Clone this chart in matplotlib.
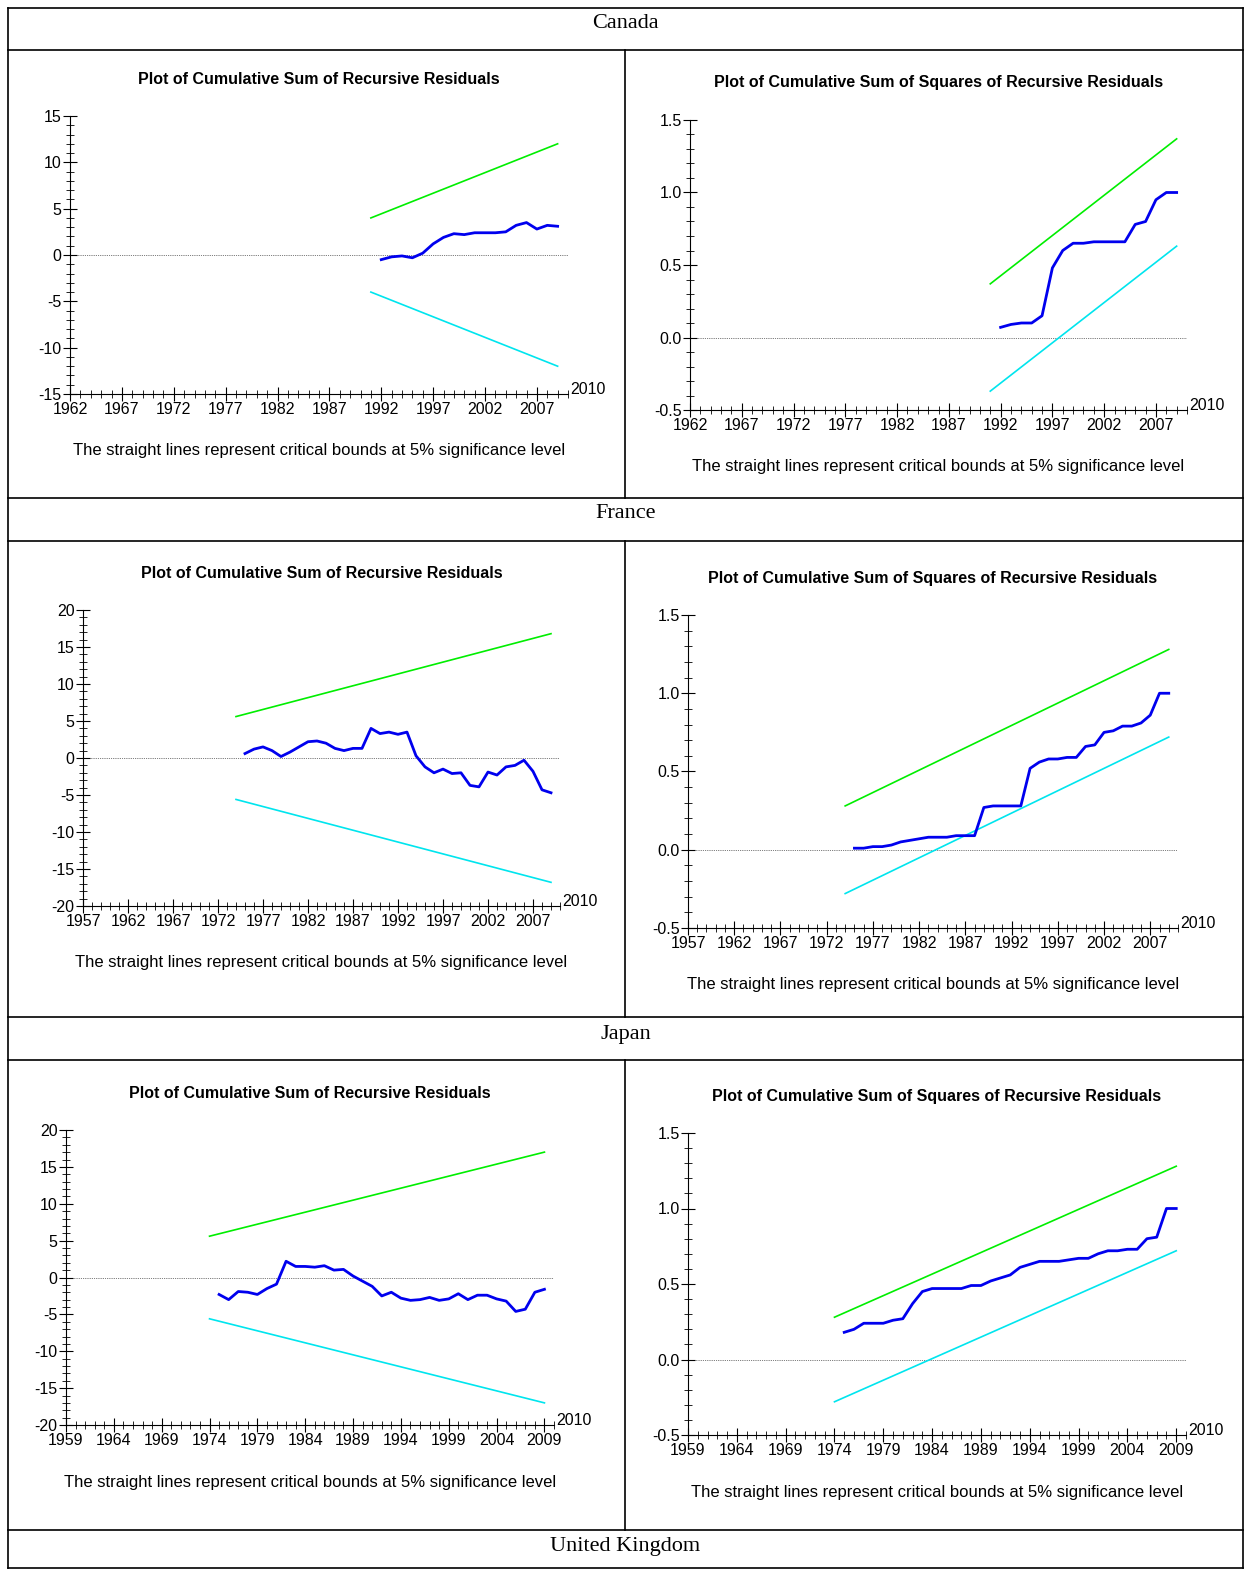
import numpy as np
import matplotlib.pyplot as plt
from matplotlib.lines import Line2D

W, H = 1254, 1573
NARROW = ['Liberation Sans Narrow', 'Liberation Sans', 'DejaVu Sans']

# Canada
ca_cs_years = list(range(1992, 2010))
ca_cs = [-0.5, -0.2, -0.1, -0.3, 0.2, 1.2, 1.9, 2.3, 2.2, 2.4, 2.4, 2.4, 2.5, 3.2, 3.5, 2.8, 3.2, 3.1]
ca_cs_bound = [4.0, 12.0]
ca_sq = [0.07, 0.09, 0.1, 0.1, 0.15, 0.48, 0.6, 0.65, 0.65, 0.66, 0.66, 0.66, 0.66, 0.78, 0.8, 0.95, 1.0, 1.0]
ca_sq_upper = [0.37, 1.37]
ca_sq_lower = [-0.37, 0.63]

# France
fr_years = list(range(1975, 2010))
fr_cs = [0.6, 1.2, 1.5, 1.0, 0.2, 0.8, 1.5, 2.2, 2.3, 2.0, 1.3, 1.0, 1.3, 1.3, 4.0, 3.3, 3.5, 3.2, 3.5,
         0.3, -1.2, -2.0, -1.5, -2.1, -2.0, -3.7, -3.9, -1.9, -2.3, -1.2, -1.0, -0.3, -1.8, -4.3, -4.7]
fr_cs_bound = [5.6, 16.8]
fr_sq = [0.01, 0.01, 0.02, 0.02, 0.03, 0.05, 0.06, 0.07, 0.08, 0.08, 0.08, 0.09, 0.09, 0.09, 0.27, 0.28,
         0.28, 0.28, 0.28, 0.52, 0.56, 0.58, 0.58, 0.59, 0.59, 0.66, 0.67, 0.75, 0.76, 0.79, 0.79, 0.81,
         0.86, 1.0, 1.0]
fr_sq_upper = [0.28, 1.28]
fr_sq_lower = [-0.28, 0.72]

# Japan
jp_years = list(range(1975, 2010))
jp_cs = [-2.3, -3.0, -1.9, -2.0, -2.3, -1.5, -0.9, 2.2, 1.5, 1.5, 1.4, 1.6, 1.0, 1.1, 0.2, -0.5, -1.2,
         -2.5, -2.0, -2.8, -3.1, -3.0, -2.7, -3.1, -2.9, -2.2, -3.0, -2.4, -2.4, -2.9, -3.2, -4.6, -4.3,
         -2.0, -1.6]
jp_cs_bound = [5.6, 17.0]
jp_sq = [0.18, 0.2, 0.24, 0.24, 0.24, 0.26, 0.27, 0.37, 0.45, 0.47, 0.47, 0.47, 0.47, 0.49, 0.49, 0.52,
         0.54, 0.56, 0.61, 0.63, 0.65, 0.65, 0.65, 0.66, 0.67, 0.67, 0.7, 0.72, 0.72, 0.73, 0.73, 0.8,
         0.81, 1.0, 1.0]
jp_sq_upper = [0.28, 1.28]
jp_sq_lower = [-0.28, 0.72]

countries = ['Canada', 'France', 'Japan', 'United Kingdom']

fig = plt.figure(figsize=(W / 100, H / 100), dpi=100)


def hline(y, x0=8, x1=1243):
    fig.add_artist(Line2D([x0 / W, x1 / W], [1 - y / H, 1 - y / H], color='black', lw=1.2))


def vline(x, y0, y1):
    fig.add_artist(Line2D([x / W, x / W], [1 - y0 / H, 1 - y1 / H], color='black', lw=1.2))


for y in [8, 50, 498, 541, 1017, 1060, 1530, 1568]:
    hline(y)
vline(8, 8, 1568)
vline(1243, 8, 1568)
for y0, y1 in [(50, 498), (541, 1017), (1060, 1530)]:
    vline(625, y0, y1)
for name, y in zip(countries, [24, 514, 1034, 1546]):
    fig.text(625.5 / W, 1 - y / H, name, ha='center', va='center', fontsize=16, family='Liberation Serif')


def panel(box, x0, yl, ymaj, ymin, years, vals, upper, lower, title, ydec):
    l, t, r, b = box
    ax = fig.add_axes([l / W, 1 - b / H, (r - l) / W, (b - t) / H])
    ax.set_xlim(x0, 2010)
    ax.set_ylim(*yl)
    for s in ['top', 'right']:
        ax.spines[s].set_visible(False)
    ax.set_xticks(np.arange(x0, 2010, 5))
    ax.set_xticks(np.arange(x0, 2011, 1), minor=True)
    ax.set_yticks(np.arange(yl[0], yl[1] + 1e-9, ymaj))
    ax.set_yticks(np.arange(yl[0], yl[1] + 1e-9, ymin), minor=True)
    fmt = '%.1f' if ydec else '%d'
    ax.set_yticklabels([fmt % v for v in np.arange(yl[0], yl[1] + 1e-9, ymaj)])
    ax.tick_params(which='major', direction='inout', length=10, width=0.8, labelsize=11.5, pad=1)
    ax.tick_params(which='minor', direction='inout', length=6, width=0.6)
    for lab in ax.get_xticklabels() + ax.get_yticklabels():
        lab.set_family(NARROW)
    ax.axhline(0, color='black', lw=0.5, ls=':')
    ly = [years[0] - 1, years[-1]]
    ax.plot(ly, upper, color='#00ee00', lw=1.2)
    ax.plot(ly, lower, color='#00e5ee', lw=1.2)
    ax.plot(years, vals, color='#0000ee', lw=2)
    ax.text(1.005, -0.01, '2010', transform=ax.transAxes, fontsize=11.5, family=NARROW, va='bottom')
    ax.text(0.5, 1 + 37 / (b - t), title, transform=ax.transAxes, ha='center', va='center',
            fontsize=11.5, weight='bold', family=NARROW)
    ax.text(0.5, -57 / (b - t), 'The straight lines represent critical bounds at 5% significance level',
            transform=ax.transAxes, ha='center', va='center', fontsize=12, family=NARROW)
    return ax


t1 = 'Plot of Cumulative Sum of Recursive Residuals'
t2 = 'Plot of Cumulative Sum of Squares of Recursive Residuals'

panel((70, 116, 568, 394), 1962, (-15, 15), 5, 1, ca_cs_years, ca_cs, ca_cs_bound,
      [-v for v in ca_cs_bound], t1, False)
panel((690, 120, 1187, 410), 1962, (-0.5, 1.5), 0.5, 0.1, ca_cs_years, ca_sq, ca_sq_upper,
      ca_sq_lower, t2, True)
panel((83, 610, 560, 906), 1957, (-20, 20), 5, 1, fr_years, fr_cs, fr_cs_bound,
      [-v for v in fr_cs_bound], t1, False)
panel((688, 615, 1178, 928), 1957, (-0.5, 1.5), 0.5, 0.1, fr_years, fr_sq, fr_sq_upper,
      fr_sq_lower, t2, True)
panel((66, 1130, 554, 1425), 1959, (-20, 20), 5, 1, jp_years, jp_cs, jp_cs_bound,
      [-v for v in jp_cs_bound], t1, False)
panel((688, 1133, 1186, 1435), 1959, (-0.5, 1.5), 0.5, 0.1, jp_years, jp_sq, jp_sq_upper,
      jp_sq_lower, t2, True)

fig.savefig('out.png', dpi=100)
